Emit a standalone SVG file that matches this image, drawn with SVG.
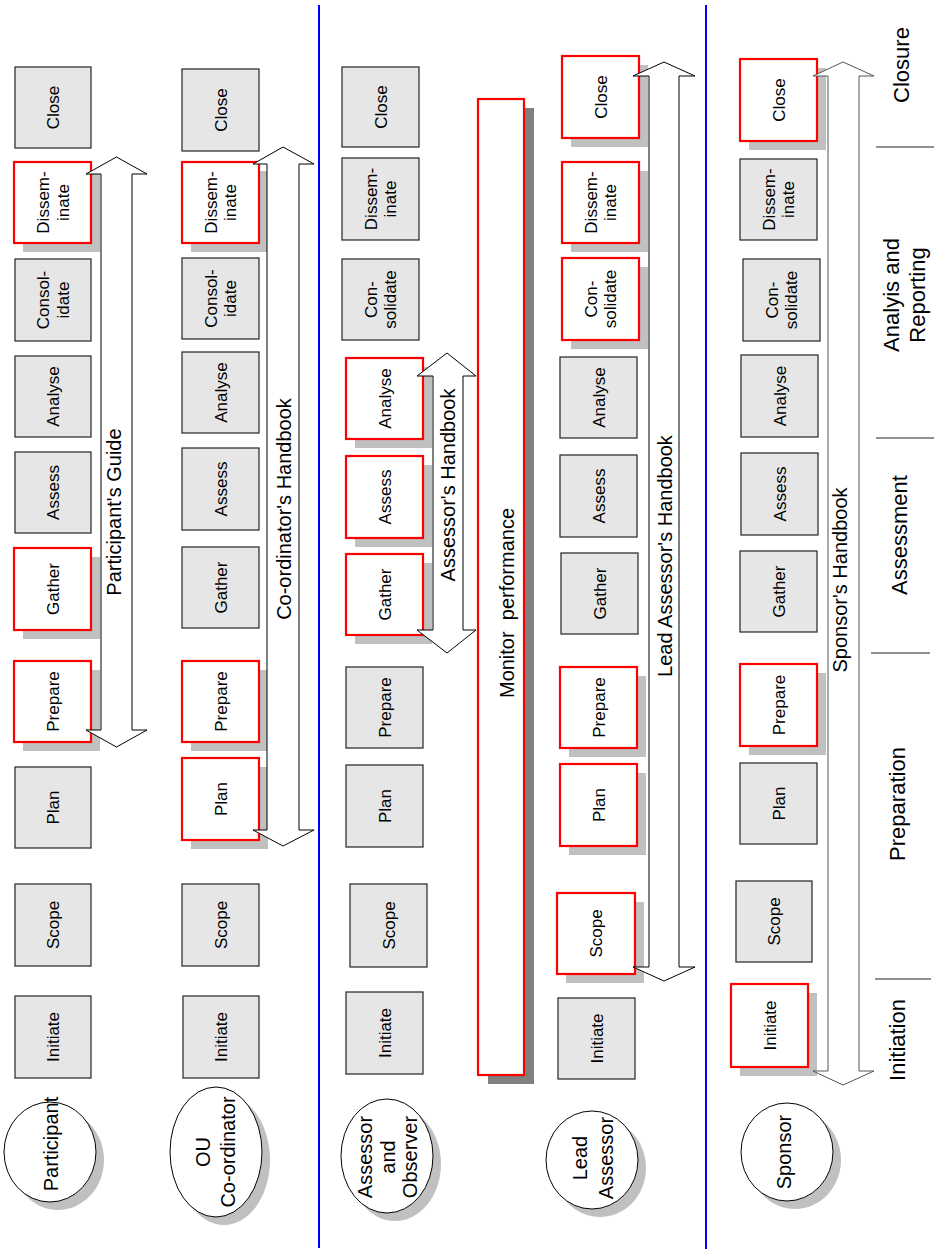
<svg xmlns="http://www.w3.org/2000/svg" width="935" height="1251" viewBox="0 0 935 1251">
<style>
.g{fill:#e6e6e6;stroke:#333;stroke-width:1.3}
.r{fill:#fff;stroke:#f00;stroke-width:2.2}
.sh{fill:#c0c0c0}
.el{fill:#fff;stroke:#000;stroke-width:1}
.t{font-family:"Liberation Sans",Arial,sans-serif;font-size:17px;text-anchor:middle;fill:#000}
.lt{font-family:"Liberation Sans",Arial,sans-serif;font-size:20px;text-anchor:middle;fill:#000}
.ph{font-family:"Liberation Sans",Arial,sans-serif;font-size:22px;text-anchor:middle;fill:#000}
.ar{fill:#fff;stroke:#000;stroke-width:1}
.bl{stroke:#00f;stroke-width:2}
.sep{stroke:#222;stroke-width:1}
</style>
<rect width="935" height="1251" fill="#fff"/>
<line class="bl" x1="319" y1="5" x2="319" y2="1248"/>
<line class="bl" x1="706" y1="5" x2="706" y2="1249"/>

<!-- Column 1: Participant -->
<g id="p-close"><rect class="g" x="15" y="67" width="76" height="81"/><text class="t" transform="translate(53 107.5) rotate(-90)" y="6">Close</text></g>
<g id="p-disseminate"><rect class="sh" x="23" y="171" width="77" height="81"/><rect class="r" x="14" y="162" width="77" height="81"/><text class="t" transform="translate(53 202.5) rotate(-90)"><tspan x="0" y="-4">Dissem-</tspan><tspan x="0" y="15.5">inate</tspan></text></g>
<g id="p-consolidate"><rect class="g" x="15" y="259" width="76" height="82"/><text class="t" transform="translate(53 300) rotate(-90)"><tspan x="0" y="-4">Consol-</tspan><tspan x="0" y="15.5">idate</tspan></text></g>
<g id="p-analyse"><rect class="g" x="15" y="356" width="76" height="81"/><text class="t" transform="translate(53 396.5) rotate(-90)" y="6">Analyse</text></g>
<g id="p-assess"><rect class="g" x="15" y="452" width="76" height="81"/><text class="t" transform="translate(53 492.5) rotate(-90)" y="6">Assess</text></g>
<g id="p-gather"><rect class="sh" x="23" y="557" width="77" height="82"/><rect class="r" x="14" y="548" width="77" height="82"/><text class="t" transform="translate(53 589) rotate(-90)" y="6">Gather</text></g>
<g id="p-prepare"><rect class="sh" x="23" y="670" width="77" height="81"/><rect class="r" x="14" y="661" width="77" height="81"/><text class="t" transform="translate(53 701.5) rotate(-90)" y="6">Prepare</text></g>
<g id="p-plan"><rect class="g" x="15" y="767" width="76" height="81"/><text class="t" transform="translate(53 807.5) rotate(-90)" y="6">Plan</text></g>
<g id="p-scope"><rect class="g" x="15" y="884" width="76" height="82"/><text class="t" transform="translate(53 925) rotate(-90)" y="6">Scope</text></g>
<g id="p-initiate"><rect class="g" x="15" y="996" width="76" height="82"/><text class="t" transform="translate(53 1037) rotate(-90)" y="6">Initiate</text></g>
<g id="participant"><ellipse class="sh" cx="58" cy="1160" rx="46" ry="50"/><ellipse class="el" cx="50" cy="1152" rx="46" ry="50"/><text class="lt" transform="translate(50 1144) rotate(-90)" y="7.5">Participant</text></g>

<!-- Column 2: OU Co-ordinator -->
<g id="c-close"><rect class="g" x="182" y="69" width="77" height="82"/><text class="t" transform="translate(220.5 110) rotate(-90)" y="6">Close</text></g>
<g id="c-disseminate"><rect class="sh" x="191" y="171" width="77" height="81"/><rect class="r" x="182" y="162" width="77" height="81"/><text class="t" transform="translate(220.5 202.5) rotate(-90)"><tspan x="0" y="-4">Dissem-</tspan><tspan x="0" y="15.5">inate</tspan></text></g>
<g id="c-consolidate"><rect class="g" x="182" y="258" width="77" height="81"/><text class="t" transform="translate(220.5 298.5) rotate(-90)"><tspan x="0" y="-4">Consol-</tspan><tspan x="0" y="15.5">idate</tspan></text></g>
<g id="c-analyse"><rect class="g" x="182" y="352" width="77" height="81"/><text class="t" transform="translate(220.5 392.5) rotate(-90)" y="6">Analyse</text></g>
<g id="c-assess"><rect class="g" x="182" y="448" width="77" height="82"/><text class="t" transform="translate(220.5 489) rotate(-90)" y="6">Assess</text></g>
<g id="c-gather"><rect class="g" x="182" y="547" width="77" height="81"/><text class="t" transform="translate(220.5 587.5) rotate(-90)" y="6">Gather</text></g>
<g id="c-prepare"><rect class="sh" x="191" y="670" width="77" height="81"/><rect class="r" x="182" y="661" width="77" height="81"/><text class="t" transform="translate(220.5 701.5) rotate(-90)" y="6">Prepare</text></g>
<g id="c-plan"><rect class="sh" x="191" y="767" width="77" height="82"/><rect class="r" x="182" y="758" width="77" height="82"/><text class="t" transform="translate(220.5 799) rotate(-90)" y="6">Plan</text></g>
<g id="c-scope"><rect class="g" x="182" y="884" width="77" height="82"/><text class="t" transform="translate(220.5 925) rotate(-90)" y="6">Scope</text></g>
<g id="c-initiate"><rect class="g" x="183" y="996" width="76" height="82"/><text class="t" transform="translate(221 1037) rotate(-90)" y="6">Initiate</text></g>
<g id="ou-coordinator"><ellipse class="sh" cx="224" cy="1160" rx="46" ry="65"/><ellipse class="el" cx="216" cy="1152" rx="46" ry="65"/><text class="lt" transform="translate(216 1152) rotate(-90)"><tspan x="0" y="-6">OU</tspan><tspan x="0" y="19">Co-ordinator</tspan></text></g>

<!-- Column 3: Assessor and Observer -->
<g id="a-close"><rect class="g" x="342" y="67" width="77" height="80"/><text class="t" transform="translate(380.5 107) rotate(-90)" y="6">Close</text></g>
<g id="a-disseminate"><rect class="g" x="342" y="158" width="77" height="82"/><text class="t" transform="translate(380.5 199) rotate(-90)"><tspan x="0" y="-4">Dissem-</tspan><tspan x="0" y="15.5">inate</tspan></text></g>
<g id="a-consolidate"><rect class="g" x="342" y="259" width="77" height="81"/><text class="t" transform="translate(380.5 299.5) rotate(-90)"><tspan x="0" y="-4">Con-</tspan><tspan x="0" y="15.5">solidate</tspan></text></g>
<g id="a-analyse"><rect class="sh" x="355" y="367" width="77" height="81"/><rect class="r" x="346" y="358" width="77" height="81"/><text class="t" transform="translate(384.5 398.5) rotate(-90)" y="6">Analyse</text></g>
<g id="a-assess"><rect class="sh" x="355" y="465" width="77" height="82"/><rect class="r" x="346" y="456" width="77" height="82"/><text class="t" transform="translate(384.5 497) rotate(-90)" y="6">Assess</text></g>
<g id="a-gather"><rect class="sh" x="355" y="563" width="77" height="81"/><rect class="r" x="346" y="554" width="77" height="81"/><text class="t" transform="translate(384.5 594.5) rotate(-90)" y="6">Gather</text></g>
<g id="a-prepare"><rect class="g" x="346" y="667" width="77" height="81"/><text class="t" transform="translate(384.5 707.5) rotate(-90)" y="6">Prepare</text></g>
<g id="a-plan"><rect class="g" x="346" y="765" width="77" height="82"/><text class="t" transform="translate(384.5 806) rotate(-90)" y="6">Plan</text></g>
<g id="a-scope"><rect class="g" x="350" y="884" width="77" height="83"/><text class="t" transform="translate(388.5 925.5) rotate(-90)" y="6">Scope</text></g>
<g id="a-initiate"><rect class="g" x="346" y="992" width="77" height="82"/><text class="t" transform="translate(384.5 1033) rotate(-90)" y="6">Initiate</text></g>
<g id="assessor-observer"><ellipse class="sh" cx="395" cy="1164" rx="46" ry="57"/><ellipse class="el" cx="387" cy="1156" rx="46" ry="57"/><text class="lt" transform="translate(387 1157) rotate(-90)"><tspan x="0" y="-15">Assessor</tspan><tspan x="0" y="8">and</tspan><tspan x="0" y="30">Observer</tspan></text></g>

<!-- Monitor performance -->
<g id="monitor"><rect x="488" y="108" width="46" height="976" fill="#808080"/><rect class="r" x="478" y="99" width="46" height="976"/><text class="lt" transform="translate(501 603) rotate(-90)" y="13" xml:space="preserve">Monitor  performance</text></g>

<!-- Column 4: Lead Assessor -->
<g id="l-close"><rect class="sh" x="571" y="65" width="77" height="82"/><rect class="r" x="562" y="56" width="77" height="82"/><text class="t" transform="translate(600.5 97) rotate(-90)" y="6">Close</text></g>
<g id="l-disseminate"><rect class="sh" x="571" y="171" width="77" height="81"/><rect class="r" x="562" y="162" width="77" height="81"/><text class="t" transform="translate(600.5 202.5) rotate(-90)"><tspan x="0" y="-4">Dissem-</tspan><tspan x="0" y="15.5">inate</tspan></text></g>
<g id="l-consolidate"><rect class="sh" x="571" y="267" width="77" height="82"/><rect class="r" x="562" y="258" width="77" height="82"/><text class="t" transform="translate(600.5 299) rotate(-90)"><tspan x="0" y="-4">Con-</tspan><tspan x="0" y="15.5">solidate</tspan></text></g>
<g id="l-analyse"><rect class="g" x="560" y="357" width="77" height="81"/><text class="t" transform="translate(598.5 397.5) rotate(-90)" y="6">Analyse</text></g>
<g id="l-assess"><rect class="g" x="560" y="455" width="77" height="82"/><text class="t" transform="translate(598.5 496) rotate(-90)" y="6">Assess</text></g>
<g id="l-gather"><rect class="g" x="561" y="553" width="77" height="81"/><text class="t" transform="translate(599.5 593.5) rotate(-90)" y="6">Gather</text></g>
<g id="l-prepare"><rect class="sh" x="569" y="676" width="77" height="81"/><rect class="r" x="560" y="667" width="77" height="81"/><text class="t" transform="translate(598.5 707.5) rotate(-90)" y="6">Prepare</text></g>
<g id="l-plan"><rect class="sh" x="569" y="773" width="77" height="82"/><rect class="r" x="560" y="764" width="77" height="82"/><text class="t" transform="translate(598.5 805) rotate(-90)" y="6">Plan</text></g>
<g id="l-scope"><rect class="sh" x="566" y="902" width="78" height="81"/><rect class="r" x="557" y="893" width="78" height="81"/><text class="t" transform="translate(596 933.5) rotate(-90)" y="6">Scope</text></g>
<g id="l-initiate"><rect class="g" x="558" y="998" width="77" height="81"/><text class="t" transform="translate(596.5 1038.5) rotate(-90)" y="6">Initiate</text></g>
<g id="lead-assessor"><ellipse class="sh" cx="600" cy="1168" rx="46" ry="49"/><ellipse class="el" cx="592" cy="1160" rx="46" ry="49"/><text class="lt" transform="translate(592 1158) rotate(-90)"><tspan x="0" y="-5">Lead</tspan><tspan x="0" y="21">Assessor</tspan></text></g>

<!-- Column 5: Sponsor -->
<g id="s-close"><rect class="sh" x="749" y="68" width="77" height="82"/><rect class="r" x="740" y="59" width="77" height="82"/><text class="t" transform="translate(778.5 100) rotate(-90)" y="6">Close</text></g>
<g id="s-disseminate"><rect class="g" x="740" y="159" width="77" height="81"/><text class="t" transform="translate(778.5 199.5) rotate(-90)"><tspan x="0" y="-4">Dissem-</tspan><tspan x="0" y="15.5">inate</tspan></text></g>
<g id="s-consolidate"><rect class="g" x="743" y="259" width="77" height="82"/><text class="t" transform="translate(781.5 300) rotate(-90)"><tspan x="0" y="-4">Con-</tspan><tspan x="0" y="15.5">solidate</tspan></text></g>
<g id="s-analyse"><rect class="g" x="741" y="355" width="77" height="82"/><text class="t" transform="translate(779.5 396) rotate(-90)" y="6">Analyse</text></g>
<g id="s-assess"><rect class="g" x="741" y="453" width="77" height="82"/><text class="t" transform="translate(779.5 494) rotate(-90)" y="6">Assess</text></g>
<g id="s-gather"><rect class="g" x="740" y="551" width="77" height="81"/><text class="t" transform="translate(778.5 591.5) rotate(-90)" y="6">Gather</text></g>
<g id="s-prepare"><rect class="sh" x="749" y="673" width="77" height="82"/><rect class="r" x="740" y="664" width="77" height="82"/><text class="t" transform="translate(778.5 705) rotate(-90)" y="6">Prepare</text></g>
<g id="s-plan"><rect class="g" x="740" y="763" width="77" height="81"/><text class="t" transform="translate(778.5 803.5) rotate(-90)" y="6">Plan</text></g>
<g id="s-scope"><rect class="g" x="736" y="881" width="76" height="81"/><text class="t" transform="translate(774 921.5) rotate(-90)" y="6">Scope</text></g>
<g id="s-initiate"><rect class="sh" x="740" y="993" width="77" height="83"/><rect class="r" x="731" y="984" width="77" height="83"/><text class="t" transform="translate(769.5 1025.5) rotate(-90)" y="6">Initiate</text></g>
<g id="sponsor"><ellipse class="sh" cx="795" cy="1160" rx="46" ry="49"/><ellipse class="el" cx="787" cy="1152" rx="46" ry="49"/><text class="lt" transform="translate(787 1152) rotate(-90)" y="4">Sponsor</text></g>

<!-- Connectors: handbook span arrows -->
<g id="connectors">
<g id="participants-guide"><polygon class="ar" points="116.5,157 147,174 132,174 132,730 147,730 116.5,747 86,730 101,730 101,174 86,174"/><text class="lt" transform="translate(116.5 512) rotate(-90)" y="4">Participant's Guide</text></g>
<g id="coordinators-handbook"><polygon class="ar" points="283,147 314,164 299,164 299,830 314,830 283,846 253,830 267,830 267,164 253,164"/><text class="lt" transform="translate(283 509) rotate(-90)" y="7.5">Co-ordinator's Handbook</text></g>
<g id="assessors-handbook"><polygon class="ar" points="447,353 476,376 463,376 463,630 476,630 447,653 417,630 433,630 433,376 417,376"/><text class="lt" transform="translate(447 485) rotate(-90)" y="7.5">Assessor's Handbook</text></g>
<g id="lead-assessors-handbook"><polygon class="ar" points="664,62 695,76 679,76 679,967 695,967 664,981 633,967 649,967 649,76 633,76"/><text class="lt" transform="translate(664 556) rotate(-90)" y="7.5">Lead Assessor's Handbook</text></g>
<g id="sponsors-handbook"><polygon class="ar" style="stroke:#555" points="843,62 874,76 859,76 859,1071 874,1071 843,1085 813,1071 828,1071 828,76 813,76"/><text class="lt" transform="translate(843 580) rotate(-90)" y="3.5">Sponsor's Handbook</text></g>
</g>

<!-- Phases -->
<g id="phases">
<text class="ph" transform="translate(900 65) rotate(-90)" y="8.5">Closure</text>
<line class="sep" x1="876" y1="147" x2="934" y2="147"/>
<text class="ph" transform="translate(905 295) rotate(-90)"><tspan x="0" y="-6">Analyis and</tspan><tspan x="0" y="20">Reporting</tspan></text>
<line class="sep" x1="876" y1="438" x2="934" y2="438"/>
<text class="ph" transform="translate(899 535) rotate(-90)" y="8">Assessment</text>
<line class="sep" x1="871" y1="653" x2="930" y2="653"/>
<text class="ph" transform="translate(900 804) rotate(-90)" y="4.5">Preparation</text>
<line class="sep" x1="875" y1="979" x2="931" y2="979"/>
<text class="ph" transform="translate(897 1040) rotate(-90)" y="8">Initiation</text>
</g>
</svg>
